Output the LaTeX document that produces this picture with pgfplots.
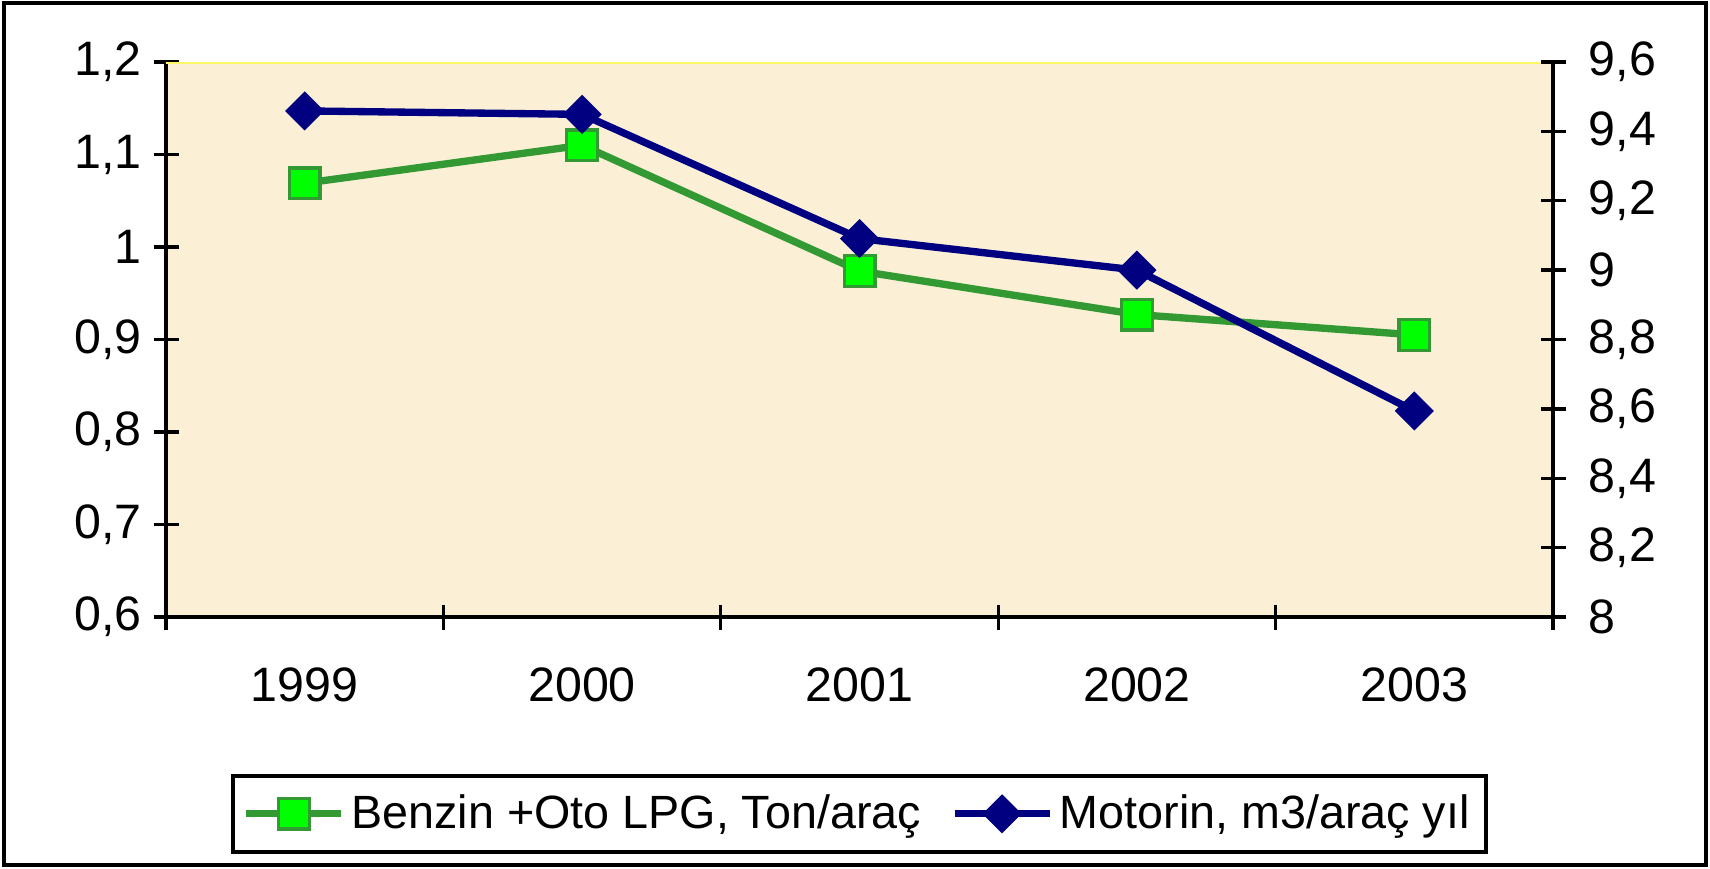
\documentclass[border=0pt]{standalone}
\usepackage{pgfplots}
\pgfplotsset{compat=1.18}
\usepackage{fontspec}
\setmainfont{Liberation Sans}
\definecolor{bgc}{RGB}{251,240,214}
\definecolor{gline}{RGB}{51,153,51}
\definecolor{gfill}{RGB}{0,255,0}
\definecolor{navy}{RGB}{0,0,128}
\begin{document}
\begin{tikzpicture}
\useasboundingbox (-49.8pt,-75.3pt) rectangle (463.2pt,185.1pt);
\fill[white] (-49.8pt,-75.3pt) rectangle (463.2pt,185.1pt);
\begin{axis}[
  at={(0,0)}, anchor=south west,
  scale only axis, width=416.1pt, height=166.5pt,
  xmin=-0.5, xmax=4.5, ymin=0.6, ymax=1.2,
  axis x line*=bottom, axis y line*=left,
  axis line style={line width=1pt, -},
  axis background/.style={fill=bgc},
  xtick={-0.5,0.5,...,4.5},
  xticklabels={1999,2000,2001,2002,2003},
  x tick label as interval,
  ytick={0.6,0.7,...,1.2},
  tick align=center, major tick length=7.5pt,
  tick style={line width=1pt, black},
  /pgf/number format/assume math mode=true,
  /pgf/number format/use comma, /pgf/number format/fixed, /pgf/number format/precision=1,
  tick label style={font=\fontsize{14.5}{17}\selectfont},
  xticklabel style={yshift=-8pt},
  yticklabel style={xshift=0pt},
  legend style={at={(0.5,-0.283)}, anchor=north, legend columns=2, draw=black, line width=1.2pt,
    font=\fontsize{14}{17}\selectfont, inner xsep=3pt, inner ysep=3.5pt,
    /tikz/every even column/.append style={column sep=7pt}},
  legend image code/.code={\draw[mark repeat=2,mark phase=2,#1] plot coordinates {(0cm,0cm) (0.5cm,0cm) (1.0cm,0cm)};},
  legend cell align=left,
]
\draw[yellow!60, line width=1pt] (rel axis cs:0,1) -- (rel axis cs:1,1);
\addplot[gline, line width=2.2pt, mark=square*, mark size=4.6pt, mark options={fill=gfill, draw=gline, line width=1pt}]
  coordinates {(0,1.069) (1,1.110) (2,0.974) (3,0.927) (4,0.905)};
\addlegendentry{Benzin +Oto LPG, Ton/araç}
\addlegendimage{navy, line width=2.2pt, mark=square*, mark size=3.9pt, mark options={fill=navy, draw=navy, rotate=45, line width=0.5pt}}
\addlegendentry{Motorin, m3/araç yıl}
\end{axis}
\begin{axis}[
  at={(0,0)}, anchor=south west,
  scale only axis, width=416.1pt, height=166.5pt,
  xmin=-0.5, xmax=4.5, ymin=8, ymax=9.6,
  axis x line=none, axis y line*=right,
  axis line style={line width=1pt, -},
  ytick={8,8.2,...,9.6},
  tick align=center, major tick length=7.5pt,
  tick style={line width=1pt, black},
  /pgf/number format/assume math mode=true,
  /pgf/number format/use comma, /pgf/number format/fixed, /pgf/number format/precision=1,
  tick label style={font=\fontsize{14.5}{17}\selectfont},
  yticklabel style={xshift=3.5pt},
]
\addplot[navy, line width=2.2pt, mark=square*, mark size=3.9pt, mark options={fill=navy, draw=navy, rotate=45, line width=0.5pt}]
  coordinates {(0,9.459) (1,9.449) (2,9.091) (3,9.000) (4,8.594)};
\end{axis}
\draw[line width=1pt] (-48.6pt,-74.4pt) rectangle (462pt,184.2pt);
\end{tikzpicture}
\end{document}
